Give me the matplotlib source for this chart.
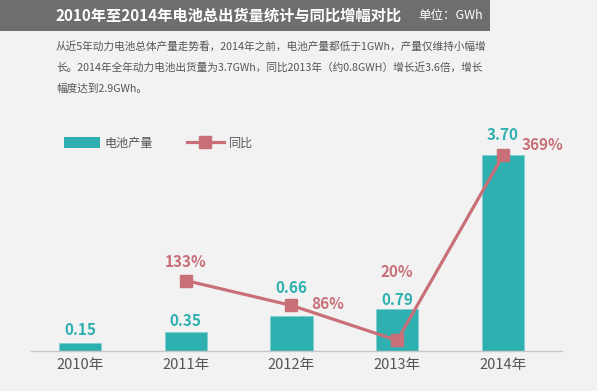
import matplotlib.pyplot as plt
from matplotlib.patches import Rectangle
from matplotlib.lines import Line2D

plt.rcParams['font.family'] = ['Noto Sans CJK SC', 'DejaVu Sans']

years = ["2010年", "2011年", "2012年", "2013年", "2014年"]
output = [0.15, 0.35, 0.66, 0.79, 3.70]
growth_years = [1, 2, 3, 4]
growth_pct = [133, 86, 20, 369]

title = "2010年至2014年电池总出货量统计与同比增幅对比"
unit = "单位：GWh"
desc = ["从近5年动力电池总体产量走势看，2014年之前，电池产量都低于1GWh，产量仅维持小幅增",
        "长。2014年全年动力电池出货量为3.7GWh，同比2013年（约0.8GWH）增长近3.6倍，增长",
        "幅度达到2.9GWh。"]

TEAL = "#2eafb0"
RED = "#c96f77"
W, H = 597, 391

fig = plt.figure(figsize=(W / 100, H / 100), dpi=100)
fig.patch.set_facecolor("#f2f2f2")

# header bar
fig.patches.append(Rectangle((0, 1 - 31 / H), 490 / W, 31 / H, transform=fig.transFigure,
                             facecolor="#6e6e6e", edgecolor="none"))
fig.text(56 / W, 1 - 16 / H, title, color="white", fontsize=11, fontweight="bold", va="center")
fig.text(483 / W, 1 - 16 / H, unit, color="white", fontsize=9, va="center", ha="right")
for i, line in enumerate(desc):
    fig.text(56 / W, 1 - (46 + 21.5 * i) / H, line, color="#555555", fontsize=7.7, va="center")

# main axes
left, right, base, top = 31, 562, 351, 120
ax = fig.add_axes([left / W, (H - base) / H, (right - left) / W, (base - top) / H])
ax.set_facecolor("none")
ax.set_xlim(-0.463, 4.558)
ax.set_ylim(0, (base - top) / 53)

x = list(range(len(years)))
ax.bar(x, output, width=0.4, color=TEAL, edgecolor="#7fcfd0", linewidth=0.6, zorder=2)
ax.plot(growth_years, [p / 100 for p in growth_pct], color=RED, lw=2.3, marker="s",
        markersize=9, zorder=3)

px = 72 / 100  # points per pixel
bar_offsets = [13, 11.7, 28, 9, 20]
for xi, v, off in zip(x, output, bar_offsets):
    ax.annotate(f"{v:.2f}", (xi, v), xytext=(0, off * px), textcoords="offset points",
                ha="center", va="center", color=TEAL, fontsize=11, fontweight="bold")

pct_offsets = [(0, 18.7), (36, 1.7), (0, 68.7), (40, 10)]
for xi, p, (dx, dy) in zip(growth_years, growth_pct, pct_offsets):
    ax.annotate(f"{p}%", (xi, p / 100), xytext=(dx * px, dy * px), textcoords="offset points",
                ha="center", va="center", color=RED, fontsize=11, fontweight="bold")

for s in ["top", "right", "left"]:
    ax.spines[s].set_visible(False)
ax.spines["bottom"].set_color("#c8c8c8")
ax.spines["bottom"].set_linewidth(1)
ax.set_yticks([])
ax.set_xticks(x)
ax.set_xticklabels(years, color="#555555", fontsize=10.5)
ax.tick_params(axis="x", length=0, pad=5)

# legend
handles = [Rectangle((0, 0), 1, 1, facecolor=TEAL, edgecolor="none"),
           Line2D([], [], color=RED, lw=2.3, marker="s", markersize=9)]
fig.legend(handles, ["电池产量", "同比"], loc="center left", bbox_to_anchor=(53 / W, 1 - 143 / H),
           ncol=2, frameon=False, fontsize=8.7, labelcolor="#555555", handlelength=3.0,
           handleheight=1.0, columnspacing=2.8, handletextpad=0.4)

fig.savefig("out.png", dpi=100, facecolor=fig.get_facecolor())
